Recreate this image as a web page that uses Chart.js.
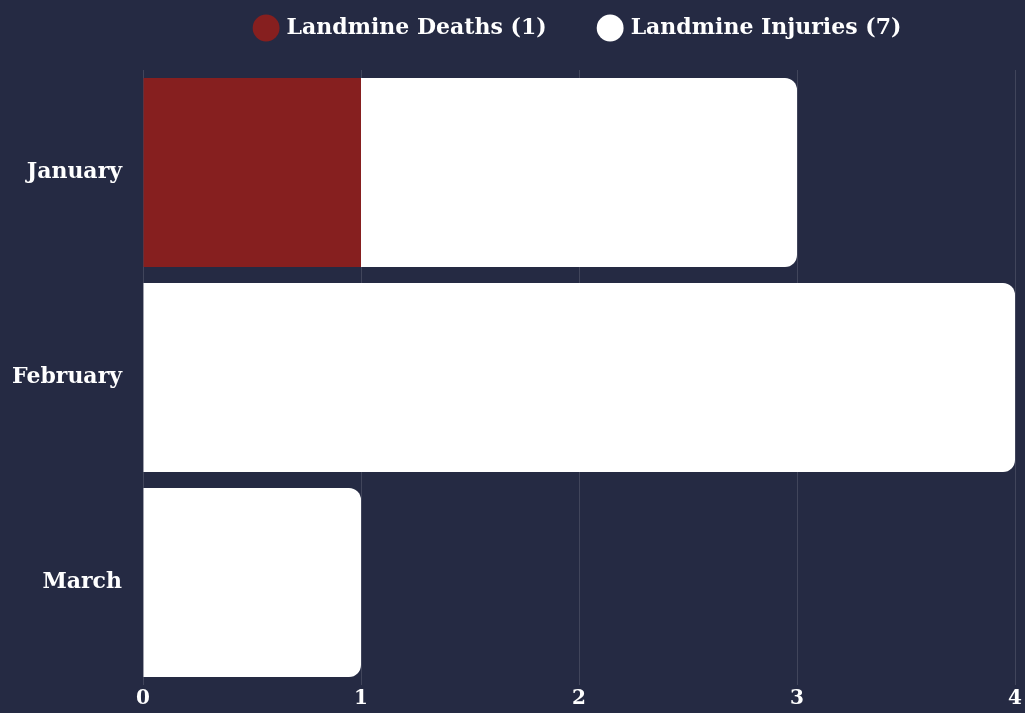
<!DOCTYPE html>
<html>
<head>
<meta charset="utf-8">
<script src="https://cdn.jsdelivr.net/npm/chart.js@4/dist/chart.umd.min.js"></script>
<style>
  html, body { margin: 0; padding: 0; background: #252a43; overflow: hidden; }
  canvas { display: block; }
</style>
</head>
<body>
<canvas id="landmine-chart" width="1025" height="713"></canvas>
<script>
var months = ['January', 'February', 'March'];
var deaths = [1, 0, 0];
var injuries = [2, 4, 1];
var xTicks = [0, 1, 2, 3, 4];

var deathColor = '#861f1f';
var fontFamily = '"DejaVu Serif", "Liberation Serif", serif';

var sum = function(arr){
  return arr.reduce(function(a, b){ return a + b; }, 0);
}

var ctx = document.getElementById('landmine-chart');
var chart = new Chart(ctx, {
  type: 'bar',
  data: {
    labels: months,
    datasets: [{
      label: 'Landmine Deaths (' + sum(deaths) + ')',
      data: deaths,
      backgroundColor: deathColor,
      borderWidth: 0,
      borderRadius: 0
    }, {
      label: 'Landmine Injuries (' + sum(injuries) + ')',
      data: injuries,
      backgroundColor: '#ffffff',
      borderWidth: 0,
      borderRadius: 12,
      borderSkipped: 'start'
    }]
  },
  options: {
    indexAxis: 'y',
    responsive: false,
    animation: false,
    layout: { padding: { top: -37, right: 0, bottom: 0, left: 0 } },
    datasets: { bar: { categoryPercentage: 0.922, barPercentage: 1 } },
    plugins: {
      legend: {
        position: 'top',
        fullSize: false,
        labels: {
          color: '#ffffff',
          usePointStyle: true,
          pointStyle: 'circle',
          boxWidth: 19,
          boxHeight: 19,
          padding: 54,
          font: { family: fontFamily, size: 22, weight: 'bold' }
        }
      },
      // empty subtitle only used as a spacer under the legend
      subtitle: {
        display: true,
        text: '',
        weight: 500,
        font: { size: 10, lineHeight: 1 },
        padding: { top: 0, bottom: 11 }
      },
      tooltip: { enabled: false }
    },
    scales: {
      x: {
        stacked: true,
        min: xTicks[0],
        max: xTicks[xTicks.length - 1],
        border: { display: false },
        grid: { color: 'rgba(255,255,255,0.13)', lineWidth: 1, drawTicks: false, tickLength: 0 },
        ticks: {
          stepSize: 1,
          color: '#ffffff',
          padding: 6,
          font: { family: fontFamily, size: 20, weight: 'bold', lineHeight: 0.8 }
        },
        afterFit: function(scale){ scale.paddingRight = 10; }
      },
      y: {
        stacked: true,
        border: { display: false },
        grid: { display: false, drawTicks: false },
        ticks: {
          color: '#ffffff',
          padding: 21,
          font: { family: fontFamily, size: 22, weight: 'bold' }
        },
        afterFit: function(scale){
          scale.width = 143;
          scale.paddingTop = 0;
          scale.paddingBottom = 0;
        }
      }
    }
  }
});
</script>
</body>
</html>
